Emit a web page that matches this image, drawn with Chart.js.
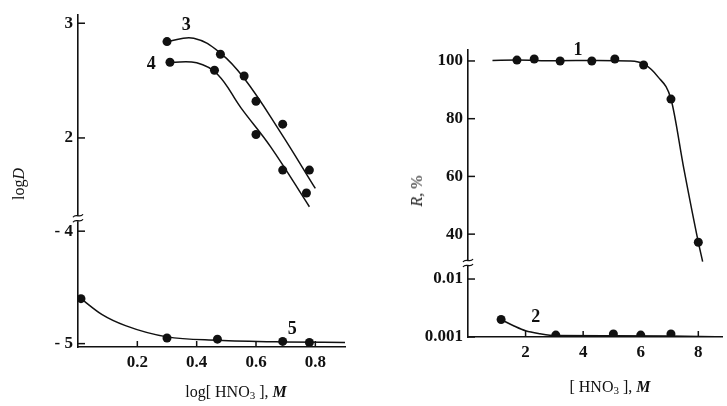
<!DOCTYPE html>
<html>
<head>
<meta charset="utf-8">
<script src="https://cdn.jsdelivr.net/npm/chart.js@4.4.0/dist/chart.umd.min.js"></script>
<style>
  html, body { margin: 0; padding: 0; background: #fff; }
  #wrap { position: relative; width: 727px; height: 406px; overflow: hidden; font-family: "Liberation Serif", "DejaVu Serif", serif; color: #111; }
  #wrap canvas { position: absolute; top: 0; }
  .title { position: absolute; font-size: 16px; white-space: nowrap; }
  .rot { transform: translate(-50%, -50%) rotate(-90deg); }
  .hor { transform: translate(-50%, -50%); }
  sub { font-size: 11px; vertical-align: -2px; line-height: 0; }
</style>
</head>
<body>
<div id="wrap">
  <canvas id="leftChart" width="360" height="406" style="left:0"></canvas>
  <canvas id="rightChart" width="367" height="406" style="left:360px"></canvas>
  <div class="title rot" style="left:19px; top:184px;">log<i>D</i></div>
  <div class="title hor" style="left:236px; top:392px;">log[ HNO<sub>3</sub> ], <b><i>M</i></b></div>
  <div class="title rot" style="left:417px; top:191px;"><i>R</i>, %</div>
  <div class="title hor" style="left:610px; top:387px;">[ HNO<sub>3</sub> ], <b><i>M</i></b></div>
</div>
<script>
const ink = '#111';

// ---- left panel: logD vs log[HNO3] ----
const curve3X = [0.30, 0.48, 0.56, 0.60, 0.69, 0.78];
const curve3Y = [2.84, 2.73, 2.54, 2.32, 2.12, 1.72];
const curve4X = [0.31, 0.46, 0.60, 0.69, 0.77];
const curve4Y = [2.66, 2.59, 2.03, 1.72, 1.52];
const curve5X = [0.01, 0.30, 0.47, 0.69, 0.78];
const curve5Y = [-4.60, -4.95, -4.96, -4.98, -4.99];

// hand drawn fit lines
const fit3X = [0.30, 0.39, 0.48, 0.56, 0.68, 0.80];
const fit3Y = [2.84, 2.87, 2.74, 2.52, 2.06, 1.56];
const fit4X = [0.31, 0.40, 0.47, 0.55, 0.65, 0.78];
const fit4Y = [2.66, 2.655, 2.555, 2.26, 1.92, 1.40];
const fit5X = [0.01, 0.08, 0.16, 0.30, 0.47, 0.69, 0.90];
const fit5Y = [-4.60, -4.74, -4.84, -4.94, -4.97, -4.985, -4.99];

const leftXTicks = [0.2, 0.4, 0.6, 0.8];
const leftTopTicks = [2, 3];
const leftBotTicks = [-5, -4];

// ---- right panel: R, % vs [HNO3] ----
const curve1X = [1.7, 2.3, 3.2, 4.3, 5.1, 6.1, 7.05, 8.0];
const curve1Y = [100.3, 100.7, 100.0, 100.0, 100.7, 98.6, 86.8, 37.2];
const curve2X = [1.15, 3.05, 5.05, 6.0, 7.05];
const curve2Y = [0.0020, 0.00108, 0.00113, 0.00108, 0.00113];

const fit1X = [0.85, 1.7, 3.0, 4.5, 5.6, 6.1, 6.6, 7.05, 7.5, 8.0, 8.15];
const fit1Y = [100.2, 100.3, 100.1, 100.2, 100.0, 99.0, 94.5, 86.8, 62.5, 37.2, 30.5];
const fit2X = [1.15, 1.6, 2.0, 2.5, 3.05, 5.0, 7.0, 8.6];
const fit2Y = [0.0020, 0.00155, 0.00128, 0.00114, 0.00106, 0.00105, 0.00104, 0.00101];

const rightXTicks = [2, 4, 6, 8];
const rightTopTicks = [40, 60, 80, 100];
const rightBotTicks = [0.001, 0.01];

const pts = (xs, ys) => xs.map((x, i) => ({ x: x, y: ys[i] }));

const tickFont = { family: "'Liberation Serif', serif", size: 17, weight: 'bold' };

function dotSet(xs, ys, axis) {
  return {
    data: pts(xs, ys), yAxisID: axis, showLine: false,
    pointRadius: 4.5, pointBackgroundColor: ink, pointBorderWidth: 0
  };
}

// smooth = plain bezier smoothing, otherwise monotone (for the flat runs)
function fitSet(xs, ys, axis, smooth) {
  const set = {
    data: pts(xs, ys), yAxisID: axis, showLine: true, pointRadius: 0,
    borderColor: ink, borderWidth: 1.5
  };
  if (smooth) set.tension = 0.4;
  else set.cubicInterpolationMode = 'monotone';
  return set;
}

function axisScale(extra, tickList, fmt, fitFn) {
  return Object.assign({
    grid: { drawOnChartArea: false, drawTicks: false },
    border: { color: ink, width: 1.6 },
    ticks: { color: ink, font: tickFont, padding: 5, callback: fmt },
    afterBuildTicks: s => { s.ticks = tickList.map(v => ({ value: v })); },
    afterFit: fitFn
  }, extra);
}

// inward ticks, axis break marks and curve numbers
const paperMarks = {
  id: 'paperMarks',
  afterDraw(chart, args, opts) {
    const ctx = chart.ctx;
    const area = chart.chartArea;
    ctx.save();
    ctx.strokeStyle = ink;
    ctx.lineWidth = 1.5;
    const seg = (x1, y1, x2, y2) => { ctx.beginPath(); ctx.moveTo(x1, y1); ctx.lineTo(x2, y2); ctx.stroke(); };

    const xs = chart.scales.x;
    xs.ticks.forEach(t => {
      const px = xs.getPixelForValue(t.value);
      seg(px, area.bottom, px, area.bottom - 6);
    });
    ['yTop', 'yBot'].forEach(id => {
      const s = chart.scales[id];
      s.ticks.forEach(t => {
        const py = s.getPixelForValue(t.value);
        seg(area.left, py, area.left + 7, py);
      });
    });

    const yb = chart.scales.yTop.bottom;
    const ax = area.left;
    ctx.fillStyle = '#fff';
    ctx.fillRect(ax - 3, yb - 3, 6, 6);
    ctx.lineWidth = 1.3;
    [-2.5, 2.5].forEach(d => {
      ctx.beginPath();
      ctx.moveTo(ax - 5, yb + d + 1.5);
      ctx.bezierCurveTo(ax - 2, yb + d - 3, ax + 2, yb + d + 3, ax + 5, yb + d - 1.5);
      ctx.stroke();
    });

    ctx.fillStyle = ink;
    ctx.font = "bold 18px 'Liberation Serif', serif";
    ctx.textAlign = 'center';
    ctx.textBaseline = 'middle';
    opts.labels.forEach(l => {
      const s = chart.scales[l.axis];
      ctx.fillText(l.text, xs.getPixelForValue(l.x), s.getPixelForValue(l.y));
    });
    ctx.restore();
  }
};

const oneDecimal = v => v.toFixed(1);
const dashNeg = v => v < 0 ? '- ' + Math.abs(v) : String(v);
const plain = v => String(v);

new Chart(document.getElementById('leftChart'), {
  type: 'scatter',
  data: {
    datasets: [
      fitSet(fit3X, fit3Y, 'yTop', true),
      fitSet(fit4X, fit4Y, 'yTop', true),
      fitSet(fit5X, fit5Y, 'yBot', false),
      dotSet(curve3X, curve3Y, 'yTop'),
      dotSet(curve4X, curve4Y, 'yTop'),
      dotSet(curve5X, curve5Y, 'yBot')
    ]
  },
  options: {
    responsive: false,
    animation: false,
    layout: { padding: { top: 12, right: 15, left: 0, bottom: 0 } },
    plugins: {
      legend: { display: false },
      tooltip: { enabled: false },
      paperMarks: {
        labels: [
          { text: '3', x: 0.365, y: 2.98, axis: 'yTop' },
          { text: '4', x: 0.247, y: 2.64, axis: 'yTop' },
          { text: '5', x: 0.722, y: -4.87, axis: 'yBot' }
        ]
      }
    },
    scales: {
      x: axisScale({ type: 'linear', position: 'bottom', min: 0, max: 0.9 },
        leftXTicks, oneDecimal, s => { s.height = 59; }),
      yTop: axisScale({ type: 'linear', position: 'left', min: 1.3, max: 3.07, stack: 'left', stackWeight: 205, weight: 1 },
        leftTopTicks, dashNeg, s => { s.width = 78; }),
      yBot: axisScale({ type: 'linear', position: 'left', min: -5.03, max: -3.885, stack: 'left', stackWeight: 130, weight: 0 },
        leftBotTicks, dashNeg, s => { s.width = 78; })
    }
  },
  plugins: [paperMarks]
});

new Chart(document.getElementById('rightChart'), {
  type: 'scatter',
  data: {
    datasets: [
      fitSet(fit1X, fit1Y, 'yTop', false),
      fitSet(fit2X, fit2Y, 'yBot', false),
      dotSet(curve1X, curve1Y, 'yTop'),
      dotSet(curve2X, curve2Y, 'yBot')
    ]
  },
  options: {
    responsive: false,
    animation: false,
    layout: { padding: { top: 50, right: 0, left: 0, bottom: 0 } },
    plugins: {
      legend: { display: false },
      tooltip: { enabled: false },
      paperMarks: {
        labels: [
          { text: '1', x: 3.82, y: 103.6, axis: 'yTop' },
          { text: '2', x: 2.35, y: 0.00221, axis: 'yBot' }
        ]
      }
    },
    scales: {
      x: axisScale({ type: 'linear', position: 'bottom', min: 0, max: 8.84 },
        rightXTicks, plain, s => { s.height = 69; }),
      yTop: axisScale({ type: 'linear', position: 'left', min: 30, max: 103.8, stack: 'right', stackWeight: 213, weight: 1 },
        rightTopTicks, plain, s => { s.width = 108; }),
      yBot: axisScale({ type: 'logarithmic', position: 'left', min: 0.001, max: 0.0189, stack: 'right', stackWeight: 74, weight: 0 },
        rightBotTicks, plain, s => { s.width = 108; })
    }
  },
  plugins: [paperMarks]
});
</script>
</body>
</html>
